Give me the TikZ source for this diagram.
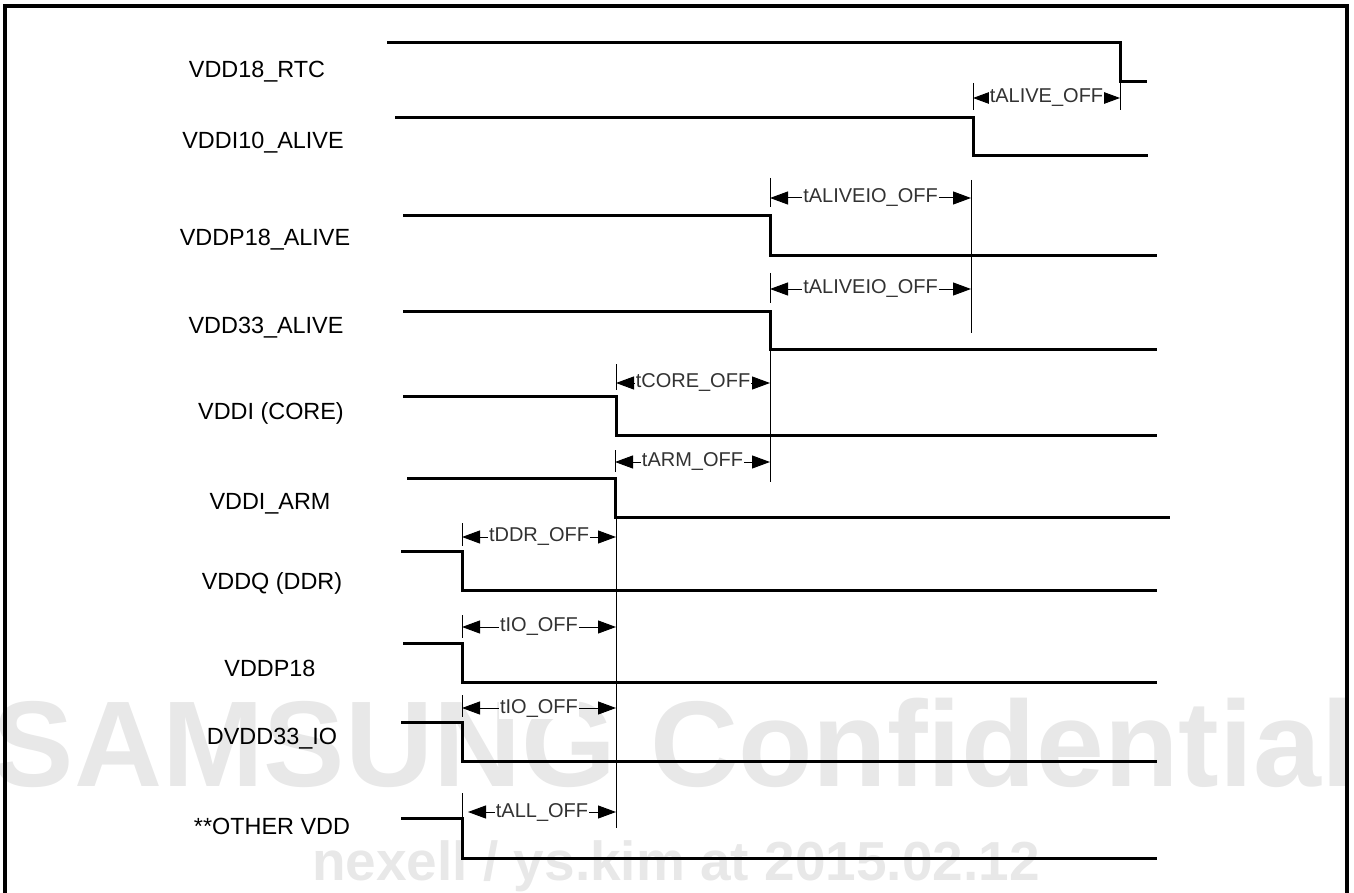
\documentclass[tikz,border=0pt]{standalone}
\usepackage{fontspec}
\setmainfont{Liberation Sans}
\usetikzlibrary{arrows.meta}
\definecolor{wmgray}{RGB}{232,232,232}
\definecolor{tgray}{RGB}{50,50,50}
\begin{document}
\begin{tikzpicture}[x=0.5pt,y=-0.5pt,
    sig/.style={line width=1.5pt},
    guide/.style={line width=0.5pt},
    dim/.style={line width=0.5pt,{Triangle[length=9pt,width=6.5pt]}-{Triangle[length=9pt,width=6.5pt]}},
    lbl/.style={font=\fontsize{11.7}{13}\selectfont},
    tlbl/.style={font=\fontsize{10}{11}\selectfont,text=tgray,fill=white,inner xsep=0.6pt,inner ysep=1pt}]
  \useasboundingbox (0,0) rectangle (1354,893);
  % watermark
  \node[text=wmgray,font=\bfseries\fontsize{61}{61}\selectfont] (wmark) at (674,743) {SAMSUNG Confidential};
  \node[text=wmgray,font=\bfseries\fontsize{27.5}{28}\selectfont,anchor=base] (wstamp) at (676,880) {nexell / ys.kim at 2015.02.12};
  % frame
  \draw[line width=1.8pt] (5,893) -- (5,6) -- (1347,6) -- (1347,893);
  % signal names
  \node[lbl] (rtc) at (257,72) {VDD18\_RTC};
  \node[lbl] (alive10) at (263,143) {VDDI10\_ALIVE};
  \node[lbl] (p18alive) at (265,240) {VDDP18\_ALIVE};
  \node[lbl] (v33alive) at (266,328) {VDD33\_ALIVE};
  \node[lbl] (core) at (271,413) {VDDI (CORE)};
  \node[lbl] (arm) at (270,504) {VDDI\_ARM};
  \node[lbl] (ddr) at (272,583) {VDDQ (DDR)};
  \node[lbl] (p18) at (270,668) {VDDP18};
  \node[lbl] (io33) at (272,739) {DVDD33\_IO};
  \node[lbl] (other) at (272,826) {**OTHER VDD};
  % waveforms
  \draw[sig] (387,43) -- (1120,43) -- (1120,82) -- (1147,82);
  \draw[sig] (395,118) -- (973,118) -- (973,156) -- (1148,156);
  \draw[sig] (403,216) -- (770,216) -- (770,256) -- (1157,256);
  \draw[sig] (403,311) -- (770,311) -- (770,349) -- (1157,349);
  \draw[sig] (403,396) -- (616,396) -- (616,435) -- (1157,435);
  \draw[sig] (407,478) -- (615,478) -- (615,517) -- (1170,517);
  \draw[sig] (401,551) -- (462,551) -- (462,590) -- (1157,590);
  \draw[sig] (403,643) -- (462,643) -- (462,682) -- (1157,682);
  \draw[sig] (401,722) -- (462,722) -- (462,761) -- (1157,761);
  \draw[sig] (401,818) -- (462,818) -- (462,858) -- (1157,858);
  % guides
  \draw[guide] (973,83) -- (973,110);
  \draw[guide] (1120,82) -- (1120,110);
  \draw[guide] (770,178) -- (770,207);
  \draw[guide] (971,180) -- (971,333);
  \draw[guide] (770,273) -- (770,303);
  \draw[guide] (616,364) -- (616,390);
  \draw[guide] (770,349) -- (770,482);
  \draw[guide] (615,450) -- (615,472);
  \draw[guide] (462,523) -- (462,546);
  \draw[guide] (616,517) -- (616,828);
  \draw[guide] (462,615) -- (462,638);
  \draw[guide] (462,695) -- (462,717);
  \draw[guide] (462,793) -- (462,818);
  % off times
  \draw[dim] (973,98) -- node[tlbl] (talive) {tALIVE\_OFF} (1120,98);
  \draw[dim] (770,198) -- node[tlbl] (taliveio) {tALIVEIO\_OFF} (971,198);
  \draw[dim] (770,289) -- node[tlbl] (taliveiob) {tALIVEIO\_OFF} (971,289);
  \draw[dim] (616,383) -- node[tlbl] (tcore) {tCORE\_OFF} (770,383);
  \draw[dim] (615,462) -- node[tlbl] (tarm) {tARM\_OFF} (770,462);
  \draw[dim] (462,537) -- node[tlbl] (tddr) {tDDR\_OFF} (616,537);
  \draw[dim] (462,627) -- node[tlbl] (tio) {tIO\_OFF} (616,627);
  \draw[dim] (462,708) -- node[tlbl] (tiob) {tIO\_OFF} (616,708);
  \draw[dim] (468,812) -- node[tlbl] (tall) {tALL\_OFF} (616,812);
\end{tikzpicture}
\end{document}
